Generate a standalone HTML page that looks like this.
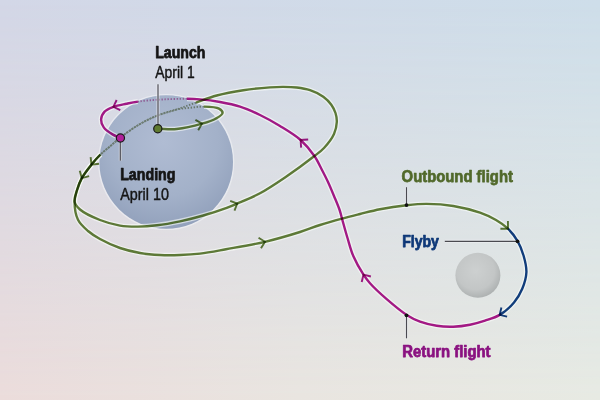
<!DOCTYPE html>
<html><head><meta charset="utf-8"><style>html,body{margin:0;padding:0;width:600px;height:400px;overflow:hidden}svg{display:block}</style></head>
<body><svg width="600" height="400" viewBox="0 0 600 400">
<defs>
<linearGradient id="bgt" x1="0" y1="0" x2="1" y2="0">
<stop offset="0" stop-color="#d3d7e7"/>
<stop offset="1" stop-color="#cedeea"/>
</linearGradient>
<linearGradient id="bgb" x1="0" y1="0" x2="1" y2="0">
<stop offset="0" stop-color="#ebdcdb"/>
<stop offset="0.5" stop-color="#e9e5e0"/>
<stop offset="1" stop-color="#e7eae3"/>
</linearGradient>
<linearGradient id="vm" x1="0" y1="0" x2="0" y2="1">
<stop offset="0" stop-color="#fff" stop-opacity="0"/>
<stop offset="1" stop-color="#fff" stop-opacity="1"/>
</linearGradient>
<mask id="m"><rect width="600" height="400" fill="url(#vm)"/></mask>
<radialGradient id="earth" cx="0.48" cy="0.35" r="0.68">
<stop offset="0" stop-color="#b0bcd3"/>
<stop offset="0.6" stop-color="#a3b1c9"/>
<stop offset="1" stop-color="#909fba"/>
</radialGradient>
<radialGradient id="moon" cx="0.45" cy="0.4" r="0.6">
<stop offset="0" stop-color="#cdd0d0"/>
<stop offset="0.7" stop-color="#c3c6c6"/>
<stop offset="1" stop-color="#aeb2b2"/>
</radialGradient>
</defs>
<rect width="600" height="400" fill="url(#bgt)"/><rect width="600" height="400" fill="url(#bgb)" mask="url(#m)"/>
<circle cx="166.2" cy="162" r="67.3" fill="none" stroke="#f2f4f8" stroke-opacity="0.55" stroke-width="1.6"/><circle cx="166.2" cy="162" r="66.8" fill="url(#earth)"/>
<circle cx="477.9" cy="275.3" r="22.5" fill="url(#moon)"/>
<g fill="none" stroke="#fafdfa" stroke-opacity="0.6" stroke-width="5"><path d="M157.70,128.70 C164.03,128.80 169.95,129.65 176.70,129.00 C184.57,128.25 194.87,125.76 202.00,123.70 C207.42,122.14 212.34,120.62 216.00,118.50 C218.78,116.89 222.43,114.82 222.60,113.00 C222.74,111.52 220.91,109.66 219.00,108.60 C215.89,106.86 208.92,106.72 204.00,106.60"/><path d="M100.50,154.50 C97.29,157.64 94.46,160.90 91.50,164.60 C88.22,168.70 84.29,173.54 81.80,178.10 C79.57,182.18 78.11,186.41 76.90,190.50 C75.77,194.29 73.92,198.47 74.60,201.75 C75.21,204.72 77.21,207.04 80.00,209.50 C84.31,213.30 93.19,217.29 100.00,220.00 C106.53,222.60 113.45,224.51 120.00,225.60 C126.10,226.61 131.92,226.64 138.00,226.60 C144.25,226.56 150.39,226.10 157.00,225.30 C164.32,224.42 172.34,222.92 180.00,221.30 C187.77,219.66 195.57,217.73 203.30,215.50 C211.13,213.24 220.46,210.07 226.70,207.80 C230.94,206.26 233.09,205.37 237.25,203.60 C243.42,200.98 252.38,197.41 260.00,193.30 C268.29,188.83 276.43,183.33 285.00,177.50 C294.51,171.03 307.33,161.52 314.40,156.00 C318.54,152.77 320.97,151.27 324.00,148.00 C327.56,144.16 331.87,138.70 334.00,134.00 C335.80,130.02 336.64,125.73 336.80,122.00 C336.94,118.80 336.41,115.87 335.50,113.00 C334.58,110.10 333.18,107.30 331.30,104.70 C329.22,101.83 326.53,99.01 323.30,96.70 C319.60,94.06 314.53,91.74 310.00,90.20 C305.66,88.73 301.16,88.05 296.70,87.50 C292.26,86.95 287.76,86.92 283.30,86.90 C278.86,86.88 275.19,87.03 270.00,87.40 C262.63,87.92 252.16,88.86 243.30,90.20 C234.39,91.55 224.94,93.28 216.70,95.50 C209.30,97.50 202.77,100.23 196.00,102.60"/><path d="M100.50,154.50 C97.29,157.64 94.46,160.90 91.50,164.60 C88.22,168.70 84.29,173.54 81.80,178.10 C79.57,182.18 78.11,186.39 76.90,190.50 C75.76,194.35 74.62,197.75 74.60,202.00 C74.58,207.28 75.55,214.78 78.00,219.75 C80.24,224.29 84.29,227.77 88.00,231.00 C91.64,234.16 95.37,236.44 100.00,239.00 C105.71,242.16 113.23,245.65 120.00,248.00 C126.57,250.28 133.29,251.83 140.00,253.00 C146.62,254.15 153.33,254.67 160.00,255.00 C166.66,255.33 173.34,255.23 180.00,255.00 C186.67,254.77 192.92,254.44 200.00,253.60 C208.12,252.64 216.47,250.96 226.00,249.25 C237.70,247.15 252.41,244.76 265.00,241.80 C277.04,238.97 290.00,235.15 300.00,232.00 C307.64,229.60 313.14,227.20 320.00,225.00 C327.13,222.72 335.02,220.51 342.00,218.60 C348.29,216.88 353.84,215.53 360.00,214.00 C366.49,212.39 372.82,210.60 380.00,209.20 C388.23,207.60 398.42,206.09 406.70,205.20 C413.83,204.44 419.56,203.85 426.70,203.90 C434.94,203.96 444.49,204.56 453.30,206.00 C462.25,207.47 472.34,210.02 480.00,212.70 C486.12,214.85 491.18,217.19 496.00,220.00 C500.43,222.58 504.44,225.24 508.00,228.70"/><path d="M508.00,228.70 C511.67,232.27 515.00,236.69 517.60,241.20 C520.20,245.71 522.14,250.66 523.60,255.75 C525.11,261.00 526.61,266.77 526.40,272.25 C526.18,277.77 524.37,283.65 522.25,288.75 C520.19,293.71 517.53,298.29 514.00,302.50 C510.16,307.07 504.78,311.84 499.70,314.90"/><path d="M499.70,314.90 C495.06,317.69 489.97,318.96 485.00,320.60 C480.07,322.23 475.17,323.69 470.00,324.70 C464.62,325.75 458.87,326.52 453.30,326.70 C447.77,326.88 442.20,326.62 436.70,325.80 C431.10,324.97 425.15,323.60 420.00,321.70 C415.21,319.93 411.42,318.01 406.70,315.00 C400.52,311.06 392.95,304.62 386.70,299.20 C380.76,294.04 374.14,287.94 370.00,283.30 C367.17,280.13 365.77,278.22 363.50,274.70 C360.31,269.75 356.01,262.30 353.30,256.00 C350.75,250.06 349.36,244.13 347.50,238.00 C345.58,231.67 343.45,223.77 342.00,218.60 C341.03,215.16 340.68,213.18 339.60,210.00 C338.20,205.87 335.93,200.65 334.00,196.00 C332.06,191.32 330.07,186.46 328.00,182.00 C326.06,177.82 324.16,174.14 322.00,170.00 C319.65,165.49 317.61,160.65 314.40,156.00 C310.70,150.64 306.03,144.84 300.60,140.00 C294.71,134.75 286.92,130.24 280.00,126.00 C273.38,121.94 266.75,118.26 260.00,115.00 C253.42,111.82 246.76,108.78 240.00,106.60 C233.42,104.48 226.70,103.20 220.00,102.00 C213.36,100.81 205.96,99.92 200.00,99.40 C195.21,98.98 192.12,98.84 187.00,98.80"/><path d="M137.90,101.60 C133.46,102.22 130.42,102.91 126.50,103.75 C122.27,104.66 117.25,105.44 113.40,106.90 C110.09,108.16 106.66,109.38 104.60,111.60 C102.68,113.67 101.22,116.84 101.10,119.50 C100.98,122.11 102.11,125.05 103.75,127.40 C105.65,130.12 109.54,132.60 112.50,134.40 C115.10,135.98 117.77,136.73 120.40,137.90"/></g>
<g fill="none" stroke-width="1.9" stroke-dasharray="1.4 1.6" opacity="0.8"><path d="M204.00,106.60 C199.26,106.49 194.60,107.31 190.00,107.80 C185.50,108.28 181.55,108.43 176.70,109.50 C170.56,110.86 162.70,113.38 156.25,116.00 C150.09,118.50 144.53,121.32 138.75,124.75 C132.57,128.41 125.46,133.59 120.40,137.50 C116.58,140.44 114.02,142.96 110.75,145.75 C107.39,148.62 103.71,151.36 100.50,154.50" stroke="#5a6a56"/><path d="M196.00,102.60 C189.45,104.90 183.25,107.29 176.70,109.50 C170.00,111.76 162.70,113.38 156.25,116.00 C150.09,118.50 144.53,121.32 138.75,124.75 C132.57,128.41 125.46,133.59 120.40,137.50 C116.58,140.44 114.02,142.96 110.75,145.75 C107.39,148.62 103.71,151.36 100.50,154.50" stroke="#5a6a56"/><path d="M187.00,98.80 C179.63,98.74 168.54,99.09 160.00,99.60 C152.26,100.06 144.04,100.74 137.90,101.60" stroke="#8a4c8a"/></g>
<g fill="none" stroke-width="2.4"><path d="M157.70,128.70 C164.03,128.80 169.95,129.65 176.70,129.00 C184.57,128.25 194.87,125.76 202.00,123.70 C207.42,122.14 212.34,120.62 216.00,118.50 C218.78,116.89 222.43,114.82 222.60,113.00 C222.74,111.52 220.91,109.66 219.00,108.60 C215.89,106.86 208.92,106.72 204.00,106.60" stroke="#63803a" style="mix-blend-mode:multiply"/><path d="M100.50,154.50 C97.29,157.64 94.46,160.90 91.50,164.60 C88.22,168.70 84.29,173.54 81.80,178.10 C79.57,182.18 78.11,186.41 76.90,190.50 C75.77,194.29 73.92,198.47 74.60,201.75 C75.21,204.72 77.21,207.04 80.00,209.50 C84.31,213.30 93.19,217.29 100.00,220.00 C106.53,222.60 113.45,224.51 120.00,225.60 C126.10,226.61 131.92,226.64 138.00,226.60 C144.25,226.56 150.39,226.10 157.00,225.30 C164.32,224.42 172.34,222.92 180.00,221.30 C187.77,219.66 195.57,217.73 203.30,215.50 C211.13,213.24 220.46,210.07 226.70,207.80 C230.94,206.26 233.09,205.37 237.25,203.60 C243.42,200.98 252.38,197.41 260.00,193.30 C268.29,188.83 276.43,183.33 285.00,177.50 C294.51,171.03 307.33,161.52 314.40,156.00 C318.54,152.77 320.97,151.27 324.00,148.00 C327.56,144.16 331.87,138.70 334.00,134.00 C335.80,130.02 336.64,125.73 336.80,122.00 C336.94,118.80 336.41,115.87 335.50,113.00 C334.58,110.10 333.18,107.30 331.30,104.70 C329.22,101.83 326.53,99.01 323.30,96.70 C319.60,94.06 314.53,91.74 310.00,90.20 C305.66,88.73 301.16,88.05 296.70,87.50 C292.26,86.95 287.76,86.92 283.30,86.90 C278.86,86.88 275.19,87.03 270.00,87.40 C262.63,87.92 252.16,88.86 243.30,90.20 C234.39,91.55 224.94,93.28 216.70,95.50 C209.30,97.50 202.77,100.23 196.00,102.60" stroke="#63803a" style="mix-blend-mode:multiply"/><path d="M100.50,154.50 C97.29,157.64 94.46,160.90 91.50,164.60 C88.22,168.70 84.29,173.54 81.80,178.10 C79.57,182.18 78.11,186.39 76.90,190.50 C75.76,194.35 74.62,197.75 74.60,202.00 C74.58,207.28 75.55,214.78 78.00,219.75 C80.24,224.29 84.29,227.77 88.00,231.00 C91.64,234.16 95.37,236.44 100.00,239.00 C105.71,242.16 113.23,245.65 120.00,248.00 C126.57,250.28 133.29,251.83 140.00,253.00 C146.62,254.15 153.33,254.67 160.00,255.00 C166.66,255.33 173.34,255.23 180.00,255.00 C186.67,254.77 192.92,254.44 200.00,253.60 C208.12,252.64 216.47,250.96 226.00,249.25 C237.70,247.15 252.41,244.76 265.00,241.80 C277.04,238.97 290.00,235.15 300.00,232.00 C307.64,229.60 313.14,227.20 320.00,225.00 C327.13,222.72 335.02,220.51 342.00,218.60 C348.29,216.88 353.84,215.53 360.00,214.00 C366.49,212.39 372.82,210.60 380.00,209.20 C388.23,207.60 398.42,206.09 406.70,205.20 C413.83,204.44 419.56,203.85 426.70,203.90 C434.94,203.96 444.49,204.56 453.30,206.00 C462.25,207.47 472.34,210.02 480.00,212.70 C486.12,214.85 491.18,217.19 496.00,220.00 C500.43,222.58 504.44,225.24 508.00,228.70" stroke="#63803a" style="mix-blend-mode:multiply"/><path d="M508.00,228.70 C511.67,232.27 515.00,236.69 517.60,241.20 C520.20,245.71 522.14,250.66 523.60,255.75 C525.11,261.00 526.61,266.77 526.40,272.25 C526.18,277.77 524.37,283.65 522.25,288.75 C520.19,293.71 517.53,298.29 514.00,302.50 C510.16,307.07 504.78,311.84 499.70,314.90" stroke="#123f82" style="mix-blend-mode:multiply"/><path d="M499.70,314.90 C495.06,317.69 489.97,318.96 485.00,320.60 C480.07,322.23 475.17,323.69 470.00,324.70 C464.62,325.75 458.87,326.52 453.30,326.70 C447.77,326.88 442.20,326.62 436.70,325.80 C431.10,324.97 425.15,323.60 420.00,321.70 C415.21,319.93 411.42,318.01 406.70,315.00 C400.52,311.06 392.95,304.62 386.70,299.20 C380.76,294.04 374.14,287.94 370.00,283.30 C367.17,280.13 365.77,278.22 363.50,274.70 C360.31,269.75 356.01,262.30 353.30,256.00 C350.75,250.06 349.36,244.13 347.50,238.00 C345.58,231.67 343.45,223.77 342.00,218.60 C341.03,215.16 340.68,213.18 339.60,210.00 C338.20,205.87 335.93,200.65 334.00,196.00 C332.06,191.32 330.07,186.46 328.00,182.00 C326.06,177.82 324.16,174.14 322.00,170.00 C319.65,165.49 317.61,160.65 314.40,156.00 C310.70,150.64 306.03,144.84 300.60,140.00 C294.71,134.75 286.92,130.24 280.00,126.00 C273.38,121.94 266.75,118.26 260.00,115.00 C253.42,111.82 246.76,108.78 240.00,106.60 C233.42,104.48 226.70,103.20 220.00,102.00 C213.36,100.81 205.96,99.92 200.00,99.40 C195.21,98.98 192.12,98.84 187.00,98.80" stroke="#ad1a8c" style="mix-blend-mode:multiply"/><path d="M137.90,101.60 C133.46,102.22 130.42,102.91 126.50,103.75 C122.27,104.66 117.25,105.44 113.40,106.90 C110.09,108.16 106.66,109.38 104.60,111.60 C102.68,113.67 101.22,116.84 101.10,119.50 C100.98,122.11 102.11,125.05 103.75,127.40 C105.65,130.12 109.54,132.60 112.50,134.40 C115.10,135.98 117.77,136.73 120.40,137.90" stroke="#ad1a8c" style="mix-blend-mode:multiply"/></g>
<g style="mix-blend-mode:multiply"><path d="M198.20,130.28 L202.00,123.70 L195.42,119.90" fill="none" stroke="#63803a" stroke-width="1.90" stroke-linecap="butt" stroke-linejoin="miter"/><path d="M90.63,157.05 L91.50,164.60 L99.05,163.73" fill="none" stroke="#63803a" stroke-width="1.90" stroke-linecap="butt" stroke-linejoin="miter"/><path d="M79.76,170.78 L81.80,178.10 L89.12,176.06" fill="none" stroke="#63803a" stroke-width="1.90" stroke-linecap="butt" stroke-linejoin="miter"/><path d="M234.47,210.67 L237.25,203.60 L230.18,200.82" fill="none" stroke="#63803a" stroke-width="1.90" stroke-linecap="butt" stroke-linejoin="miter"/><path d="M260.99,248.25 L265.00,241.80 L258.55,237.79" fill="none" stroke="#63803a" stroke-width="1.90" stroke-linecap="butt" stroke-linejoin="miter"/><path d="M500.40,228.77 L508.00,228.70 L507.93,221.10" fill="none" stroke="#63803a" stroke-width="1.90" stroke-linecap="butt" stroke-linejoin="miter"/><path d="M501.41,307.50 L499.70,314.90 L507.10,316.61" fill="none" stroke="#123f82" stroke-width="1.90" stroke-linecap="butt" stroke-linejoin="miter"/><path d="M370.89,276.48 L363.50,274.70 L361.72,282.09" fill="none" stroke="#ad1a8c" stroke-width="1.90" stroke-linecap="butt" stroke-linejoin="miter"/><path d="M308.18,139.48 L300.60,140.00 L301.12,147.58" fill="none" stroke="#ad1a8c" stroke-width="1.90" stroke-linecap="butt" stroke-linejoin="miter"/><path d="M116.65,100.03 L113.40,106.90 L120.27,110.15" fill="none" stroke="#ad1a8c" stroke-width="1.90" stroke-linecap="butt" stroke-linejoin="miter"/></g>
<g stroke="#eef0f4" stroke-opacity="0.6" stroke-width="3.2">
<line x1="158" y1="84.2" x2="158" y2="125"/>
<line x1="120.4" y1="141" x2="120.4" y2="160.7"/>
<line x1="406.5" y1="187.2" x2="406.5" y2="203"/>
<line x1="406.5" y1="317" x2="406.5" y2="338.3"/>
<line x1="444.8" y1="241.4" x2="515" y2="241.4"/>
</g>
<g stroke="#4a4a50" stroke-width="1.15">
<line x1="158" y1="84.2" x2="158" y2="128" stroke-width="1.5" stroke="#6c6c74"/>
<line x1="120.4" y1="138" x2="120.4" y2="160.7" stroke-width="1.5" stroke="#5c5c64"/>
<line x1="406.5" y1="187.2" x2="406.5" y2="205"/>
<line x1="406.5" y1="315" x2="406.5" y2="338.3"/>
<line x1="444.8" y1="241.4" x2="517" y2="241.4"/>
</g>
<circle cx="157.8" cy="128.7" r="4.1" fill="#5f7a30" stroke="#1a1a1a" stroke-width="1.2"/>
<circle cx="120.4" cy="138" r="4.1" fill="#b0209a" stroke="#1a1a1a" stroke-width="1.2"/>
<circle cx="406.5" cy="205.1" r="1.9" fill="#111"/>
<circle cx="406.5" cy="315.3" r="1.9" fill="#111"/>
<circle cx="517.5" cy="241.3" r="1.9" fill="#111"/>
<g font-family="Liberation Sans, sans-serif" stroke-linejoin="round">
<text x="155.2" y="57.5" font-size="16" font-weight="bold" fill="#151515" stroke="#151515" stroke-width="0.75" textLength="50.3" lengthAdjust="spacingAndGlyphs">Launch</text>
<text x="155.3" y="77.7" font-size="16.4" fill="#151515" stroke="#151515" stroke-width="0.45" textLength="39.4" lengthAdjust="spacingAndGlyphs">April 1</text>
<text x="120.2" y="180.2" font-size="16.2" font-weight="bold" fill="#151515" stroke="#151515" stroke-width="0.75" textLength="55.3" lengthAdjust="spacingAndGlyphs">Landing</text>
<text x="120.3" y="200.3" font-size="16.4" fill="#151515" stroke="#151515" stroke-width="0.45" textLength="48.6" lengthAdjust="spacingAndGlyphs">April 10</text>
<text x="401.6" y="181.7" font-size="17.3" font-weight="bold" fill="#51692b" stroke="#51692b" stroke-width="0.75" textLength="111.3" lengthAdjust="spacingAndGlyphs">Outbound flight</text>
<text x="402.2" y="247.2" font-size="16.2" font-weight="bold" fill="#0e3878" stroke="#0e3878" stroke-width="0.75" textLength="36.7" lengthAdjust="spacingAndGlyphs">Flyby</text>
<text x="402.3" y="356.5" font-size="16" font-weight="bold" fill="#8a1280" stroke="#8a1280" stroke-width="0.75" textLength="88.2" lengthAdjust="spacingAndGlyphs">Return flight</text>
</g>
</svg></body></html>
